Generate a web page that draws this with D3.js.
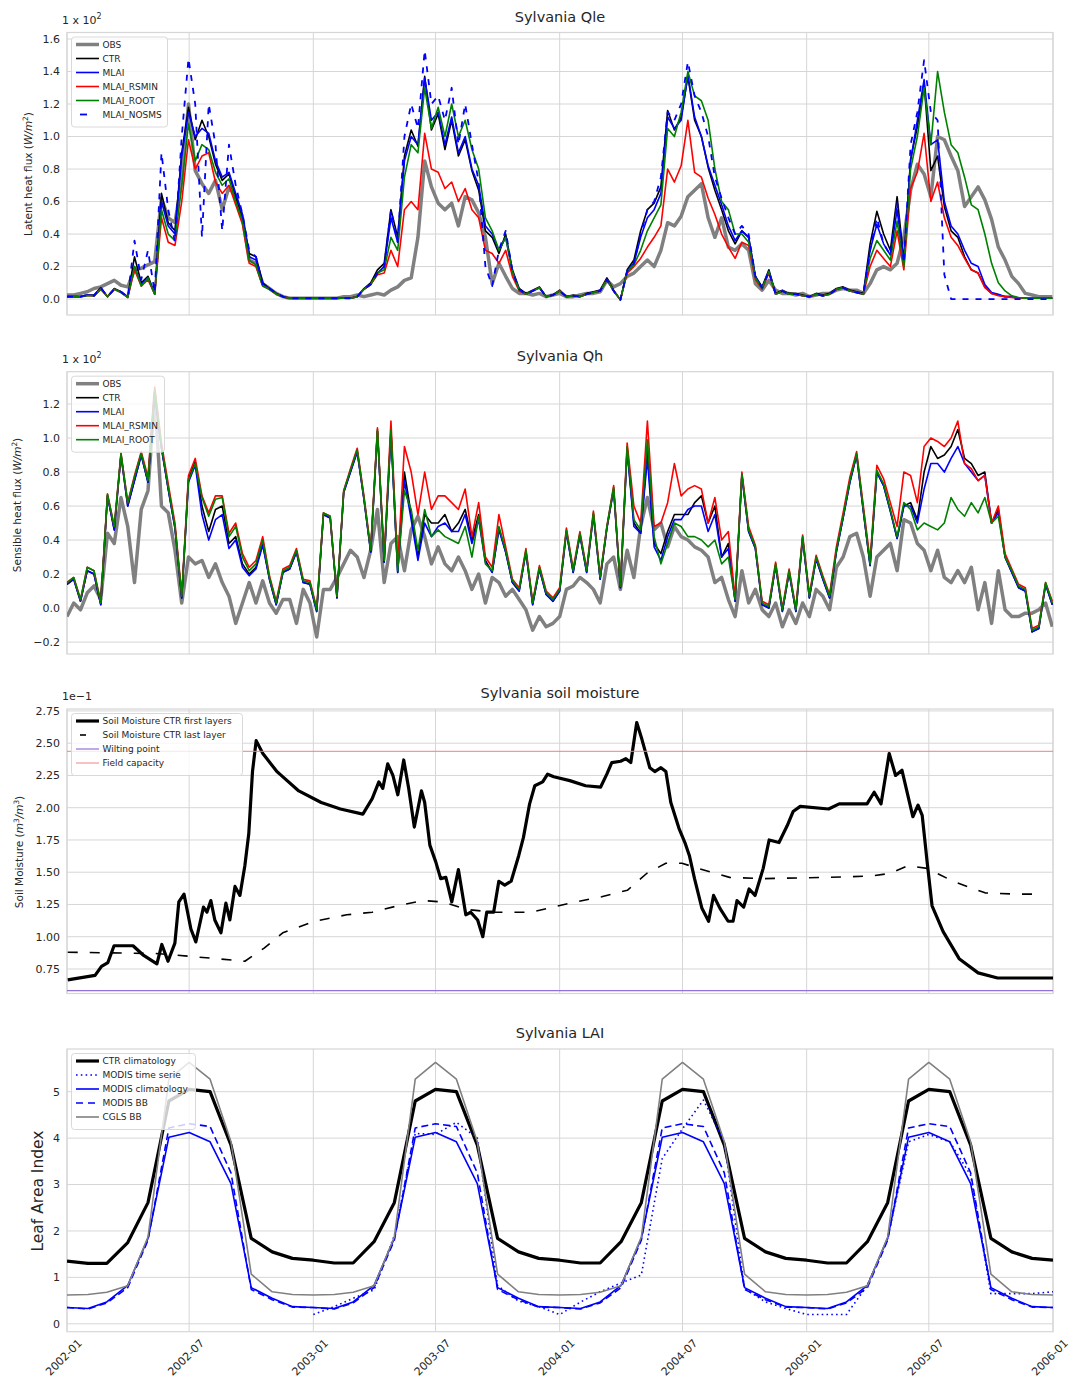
<!DOCTYPE html>
<html>
<head>
<meta charset="utf-8">
<script src="https://cdn.jsdelivr.net/npm/d3@7"></script>
<style>
  body { margin: 0; background: #fff; }
  text { font-family: "DejaVu Sans", sans-serif; fill: #262626; }
</style>
</head>
<body>
<div id="chart"></div>
<script>
// ---- 10-day series (147 samples from 2002-01-01), units of 1e2 W/m2 ----
const qleObs = [0.025,0.025,0.035,0.045,0.065,0.075,0.095,0.115,0.085,0.075,
  0.18,0.19,0.21,0.23,0.62,0.50,0.47,0.73,1.20,0.79,
  0.71,0.65,0.73,0.55,0.69,0.63,0.50,0.24,0.22,0.095,
  0.065,0.035,0.015,0.005,0.005,0.005,0.005,0.005,0.005,0.005,
  0.005,0.015,0.015,0.025,0.015,0.025,0.035,0.025,0.055,0.075,
  0.115,0.13,0.38,0.85,0.69,0.59,0.55,0.59,0.45,0.63,
  0.61,0.53,0.38,0.095,0.22,0.14,0.065,0.035,0.035,0.025,
  0.035,0.015,0.025,0.035,0.015,0.015,0.025,0.035,0.035,0.045,
  0.115,0.075,0.095,0.14,0.16,0.20,0.24,0.20,0.30,0.47,
  0.45,0.51,0.63,0.67,0.71,0.50,0.38,0.50,0.32,0.30,
  0.34,0.30,0.095,0.055,0.115,0.055,0.035,0.035,0.025,0.035,
  0.015,0.025,0.035,0.035,0.055,0.065,0.055,0.055,0.035,0.095,
  0.18,0.20,0.18,0.22,0.38,0.67,0.83,0.77,0.63,1.00,
  0.98,0.88,0.79,0.57,0.63,0.69,0.61,0.49,0.32,0.24,
  0.14,0.095,0.035,0.025,0.015,0.015,0.015];
const qleCtr = [0.015,0.015,0.015,0.025,0.025,0.07,0.015,0.065,0.045,0.015,
  0.26,0.10,0.14,0.035,0.65,0.47,0.42,0.90,1.18,0.98,
  1.10,1.00,0.83,0.73,0.77,0.63,0.50,0.28,0.26,0.10,
  0.065,0.035,0.015,0.005,0.005,0.005,0.005,0.005,0.005,0.005,
  0.005,0.005,0.005,0.015,0.065,0.10,0.18,0.22,0.55,0.38,
  0.88,1.04,0.94,1.37,1.04,1.14,0.92,1.10,0.88,0.98,
  0.79,0.67,0.42,0.38,0.28,0.40,0.18,0.065,0.035,0.055,
  0.075,0.015,0.025,0.055,0.015,0.025,0.015,0.035,0.045,0.055,
  0.13,0.055,-0.005,0.18,0.24,0.42,0.55,0.59,0.69,1.16,
  1.04,1.12,1.37,1.10,1.00,0.81,0.67,0.55,0.42,0.34,
  0.42,0.38,0.14,0.075,0.18,0.035,0.055,0.035,0.035,0.025,
  0.015,0.035,0.025,0.035,0.065,0.075,0.055,0.045,0.035,0.34,
  0.54,0.40,0.30,0.63,0.24,0.86,1.06,1.33,0.79,0.88,
  0.57,0.42,0.38,0.26,0.18,0.16,0.075,0.035,0.025,0.015,
  0.015,0.005,0.005,0.005,0.005,0.005,0.005];
const qleMlai = [0.015,0.015,0.015,0.025,0.02,0.07,0.015,0.06,0.045,0.01,
  0.20,0.09,0.13,0.03,0.60,0.45,0.40,0.88,1.15,1.00,
  1.05,1.02,0.85,0.75,0.78,0.65,0.52,0.26,0.24,0.09,
  0.065,0.035,0.015,0.005,0.005,0.005,0.005,0.005,0.005,0.005,
  0.005,0.005,0.005,0.015,0.06,0.09,0.16,0.20,0.50,0.35,
  0.85,1.00,0.95,1.36,1.10,1.15,0.95,1.12,0.90,1.00,
  0.80,0.70,0.45,0.40,0.30,0.38,0.17,0.06,0.03,0.05,
  0.07,0.015,0.025,0.05,0.015,0.02,0.015,0.03,0.04,0.05,
  0.12,0.05,-0.005,0.17,0.22,0.38,0.50,0.55,0.65,1.12,
  1.05,1.10,1.38,1.12,1.00,0.82,0.70,0.58,0.45,0.36,
  0.42,0.38,0.14,0.07,0.17,0.03,0.05,0.03,0.03,0.02,
  0.015,0.03,0.02,0.03,0.06,0.07,0.05,0.04,0.03,0.30,
  0.46,0.34,0.27,0.55,0.22,0.85,1.10,1.35,0.95,0.98,
  0.60,0.45,0.40,0.30,0.22,0.20,0.09,0.04,0.03,0.015,
  0.015,0.005,0.005,0.005,0.005,0.005,0.005];
const qleRsmin = [0.015,0.015,0.015,0.02,0.02,0.06,0.015,0.06,0.04,0.01,
  0.18,0.08,0.12,0.03,0.50,0.35,0.33,0.60,0.98,0.80,
  0.88,0.90,0.72,0.65,0.70,0.58,0.46,0.22,0.20,0.08,
  0.06,0.03,0.015,0.005,0.005,0.005,0.005,0.005,0.005,0.005,
  0.005,0.005,0.005,0.015,0.06,0.09,0.15,0.16,0.30,0.20,
  0.55,0.60,0.55,1.02,0.80,0.78,0.68,0.72,0.60,0.68,
  0.55,0.50,0.30,0.28,0.22,0.30,0.14,0.05,0.03,0.05,
  0.07,0.015,0.025,0.05,0.015,0.02,0.015,0.03,0.04,0.05,
  0.12,0.05,-0.005,0.16,0.20,0.25,0.32,0.38,0.45,0.80,
  0.72,0.82,1.10,0.78,0.75,0.62,0.52,0.40,0.32,0.25,
  0.35,0.33,0.12,0.06,0.16,0.03,0.05,0.03,0.03,0.02,
  0.015,0.03,0.02,0.03,0.06,0.07,0.05,0.04,0.03,0.20,
  0.30,0.25,0.20,0.42,0.18,0.68,0.78,1.02,0.60,0.72,
  0.50,0.38,0.33,0.25,0.18,0.16,0.07,0.035,0.02,0.015,
  0.01,0.005,0.005,0.005,0.005,0.005,0.005];
const qleRoot = [0.015,0.015,0.015,0.02,0.02,0.06,0.015,0.06,0.04,0.01,
  0.20,0.08,0.13,0.03,0.55,0.40,0.36,0.70,1.08,0.85,
  0.95,0.92,0.78,0.70,0.74,0.60,0.48,0.24,0.21,0.08,
  0.06,0.03,0.015,0.005,0.005,0.005,0.005,0.005,0.005,0.005,
  0.005,0.005,0.005,0.015,0.06,0.09,0.16,0.18,0.38,0.30,
  0.75,0.95,0.90,1.30,1.05,1.18,1.00,1.20,1.00,1.10,
  0.92,0.80,0.50,0.42,0.30,0.38,0.17,0.055,0.03,0.05,
  0.07,0.015,0.025,0.05,0.015,0.02,0.015,0.03,0.04,0.05,
  0.12,0.05,-0.005,0.17,0.21,0.30,0.42,0.50,0.58,1.05,
  1.00,1.15,1.40,1.25,1.22,1.10,0.80,0.60,0.55,0.40,
  0.40,0.35,0.13,0.065,0.17,0.03,0.05,0.03,0.03,0.02,
  0.015,0.03,0.02,0.03,0.06,0.07,0.05,0.04,0.03,0.25,
  0.36,0.30,0.24,0.48,0.20,0.80,1.00,1.30,0.95,1.40,
  1.15,0.95,0.90,0.75,0.58,0.55,0.40,0.22,0.10,0.05,
  0.02,0.01,0.005,0.005,0.005,0.005,0.005];
const qleNosms = [0.015,0.015,0.015,0.025,0.02,0.07,0.015,0.06,0.045,0.01,
  0.36,0.12,0.30,0.04,0.90,0.55,0.35,1.00,1.48,1.20,
  0.38,1.20,0.95,0.42,0.95,0.70,0.52,0.30,0.26,0.09,
  0.065,0.035,0.015,0.005,0.005,0.005,0.005,0.005,0.005,0.005,
  0.005,0.005,0.005,0.015,0.06,0.09,0.16,0.20,0.55,0.35,
  1.00,1.20,1.05,1.53,1.20,1.25,1.10,1.30,0.95,1.20,
  0.95,0.72,0.20,0.08,0.30,0.42,0.17,0.06,0.03,0.05,
  0.07,0.015,0.025,0.05,0.015,0.02,0.015,0.03,0.04,0.05,
  0.12,0.05,-0.005,0.17,0.22,0.40,0.55,0.60,0.75,1.15,
  1.10,1.20,1.46,1.25,1.15,1.00,0.75,0.62,0.50,0.40,
  0.45,0.40,0.14,0.07,0.17,0.03,0.05,0.03,0.03,0.02,
  0.015,0.03,0.02,0.03,0.06,0.07,0.05,0.04,0.03,0.30,
  0.50,0.34,0.27,0.60,0.22,0.95,1.15,1.47,1.15,1.10,
  0.15,0.0,0.0,0.0,0.0,0.0,0.0,0.0,0.0,0.0,
  0.0,0.0,0.0,0.0,0.0,0.0,0.0];

const qhObs = [-0.05,0.03,-0.01,0.09,0.13,0.05,0.44,0.38,0.65,0.48,
  0.15,0.58,0.69,1.25,0.60,0.56,0.34,0.03,0.30,0.26,
  0.28,0.18,0.26,0.15,0.07,-0.09,0.03,0.15,0.03,0.16,
  0.03,-0.03,0.05,0.05,-0.09,0.11,0.03,-0.17,0.11,0.11,
  0.18,0.26,0.34,0.30,0.18,0.34,0.58,0.15,0.38,0.42,
  0.22,0.46,0.54,0.42,0.26,0.36,0.26,0.22,0.30,0.22,
  0.11,0.20,0.03,0.18,0.15,0.07,0.11,0.05,-0.01,-0.13,
  -0.05,-0.11,-0.09,-0.05,0.11,0.13,0.18,0.15,0.11,0.03,
  0.26,0.30,0.11,0.34,0.18,0.48,0.65,0.46,0.50,0.36,
  0.48,0.42,0.40,0.36,0.34,0.30,0.15,0.18,0.05,-0.05,
  0.22,0.03,0.11,-0.01,-0.05,0.03,-0.11,-0.01,-0.09,0.03,
  -0.05,0.11,0.07,-0.01,0.24,0.30,0.42,0.44,0.30,0.07,
  0.30,0.34,0.38,0.22,0.52,0.50,0.38,0.34,0.22,0.34,
  0.18,0.15,0.22,0.15,0.24,-0.01,0.15,-0.09,0.22,-0.01,
  -0.05,-0.05,-0.03,-0.03,-0.01,0.03,-0.11];
const qhCtr = [0.14,0.17,0.04,0.22,0.20,0.02,0.66,0.46,0.90,0.60,
  0.75,0.90,0.74,1.27,0.94,0.70,0.47,0.06,0.76,0.86,
  0.60,0.45,0.58,0.60,0.38,0.42,0.26,0.20,0.24,0.38,
  0.17,0.02,0.21,0.23,0.33,0.15,0.14,-0.02,0.55,0.53,
  0.06,0.68,0.80,0.92,0.64,0.33,1.04,0.27,1.04,0.21,
  0.80,0.55,0.30,0.55,0.50,0.50,0.55,0.45,0.50,0.58,
  0.40,0.55,0.28,0.21,0.47,0.33,0.15,0.10,0.33,0.02,
  0.23,0.08,0.04,0.10,0.45,0.21,0.43,0.21,0.55,0.17,
  0.47,0.70,0.12,0.94,0.50,0.44,0.92,0.38,0.32,0.45,
  0.55,0.55,0.55,0.62,0.66,0.50,0.60,0.30,0.38,0.04,
  0.78,0.45,0.35,0.02,0.00,0.25,-0.02,0.21,-0.02,0.41,
  0.06,0.29,0.17,0.06,0.33,0.53,0.74,0.90,0.57,0.25,
  0.80,0.72,0.57,0.41,0.60,0.62,0.52,0.80,0.95,0.88,
  0.90,0.95,1.05,0.88,0.85,0.78,0.80,0.50,0.58,0.30,
  0.21,0.12,0.10,-0.14,-0.12,0.14,0.02];
const qhMlai = [0.14,0.17,0.04,0.22,0.20,0.02,0.66,0.46,0.90,0.60,
  0.75,0.90,0.74,1.27,0.94,0.70,0.47,0.06,0.74,0.84,
  0.55,0.40,0.52,0.55,0.35,0.40,0.24,0.19,0.23,0.37,
  0.17,0.02,0.21,0.23,0.33,0.15,0.14,-0.02,0.55,0.53,
  0.06,0.68,0.80,0.92,0.64,0.33,1.04,0.27,1.03,0.21,
  0.75,0.52,0.28,0.50,0.42,0.48,0.50,0.45,0.45,0.55,
  0.38,0.52,0.27,0.21,0.46,0.33,0.15,0.10,0.33,0.02,
  0.23,0.08,0.04,0.10,0.45,0.21,0.43,0.21,0.55,0.17,
  0.47,0.70,0.12,0.93,0.48,0.44,0.88,0.36,0.28,0.42,
  0.52,0.52,0.58,0.60,0.60,0.45,0.55,0.30,0.35,0.04,
  0.78,0.45,0.35,0.02,0.00,0.25,-0.02,0.21,-0.02,0.41,
  0.06,0.29,0.17,0.06,0.33,0.53,0.74,0.90,0.57,0.25,
  0.80,0.72,0.57,0.41,0.60,0.60,0.50,0.70,0.85,0.85,
  0.80,0.88,0.95,0.85,0.80,0.75,0.78,0.50,0.56,0.30,
  0.21,0.12,0.10,-0.14,-0.12,0.14,0.02];
const qhRsmin = [0.15,0.18,0.05,0.24,0.22,0.03,0.67,0.48,0.91,0.62,
  0.78,0.92,0.77,1.30,0.97,0.73,0.50,0.08,0.78,0.88,
  0.66,0.56,0.66,0.66,0.44,0.50,0.32,0.24,0.28,0.42,
  0.19,0.04,0.23,0.25,0.35,0.17,0.16,0.00,0.56,0.54,
  0.07,0.69,0.82,0.94,0.66,0.35,1.06,0.30,1.10,0.25,
  0.95,0.80,0.55,0.80,0.58,0.66,0.66,0.62,0.58,0.70,
  0.42,0.62,0.30,0.24,0.55,0.36,0.17,0.12,0.35,0.04,
  0.25,0.10,0.06,0.12,0.47,0.23,0.45,0.23,0.57,0.19,
  0.48,0.72,0.13,0.97,0.60,0.50,1.10,0.48,0.50,0.62,
  0.85,0.66,0.70,0.72,0.70,0.50,0.65,0.40,0.45,0.06,
  0.80,0.48,0.37,0.04,0.02,0.27,0.00,0.23,0.00,0.43,
  0.08,0.31,0.19,0.08,0.36,0.56,0.77,0.92,0.60,0.28,
  0.84,0.76,0.62,0.48,0.80,0.78,0.62,0.95,1.00,0.98,
  0.95,1.00,1.10,0.85,0.82,0.75,0.78,0.50,0.60,0.32,
  0.23,0.14,0.12,-0.12,-0.10,0.15,0.04];
const qhRoot = [0.15,0.18,0.05,0.24,0.22,0.03,0.67,0.48,0.91,0.62,
  0.77,0.91,0.75,1.28,0.95,0.71,0.48,0.07,0.75,0.85,
  0.65,0.54,0.64,0.65,0.42,0.48,0.30,0.22,0.26,0.40,
  0.18,0.03,0.22,0.24,0.34,0.16,0.15,-0.01,0.56,0.54,
  0.07,0.69,0.81,0.93,0.65,0.34,1.05,0.28,1.05,0.22,
  0.69,0.58,0.34,0.58,0.42,0.46,0.42,0.40,0.38,0.48,
  0.30,0.54,0.26,0.22,0.48,0.34,0.16,0.11,0.34,0.03,
  0.24,0.09,0.05,0.11,0.46,0.22,0.44,0.22,0.56,0.18,
  0.48,0.71,0.13,0.95,0.52,0.46,0.99,0.42,0.26,0.38,
  0.50,0.48,0.42,0.42,0.40,0.36,0.40,0.26,0.30,0.05,
  0.79,0.46,0.36,0.03,0.01,0.26,-0.01,0.22,-0.01,0.42,
  0.07,0.30,0.18,0.07,0.34,0.54,0.75,0.91,0.58,0.26,
  0.81,0.73,0.58,0.42,0.62,0.58,0.46,0.50,0.48,0.46,
  0.50,0.65,0.58,0.54,0.62,0.56,0.65,0.50,0.54,0.30,
  0.22,0.13,0.11,-0.13,-0.11,0.15,0.03];

// ---- soil moisture (1e-1 m3/m3), [decimal year, value] ----
const smFirstT = [2002.003,2002.114,2002.140,2002.166,2002.191,2002.268,2002.308,2002.365,2002.385,2002.410,
  2002.438,2002.454,2002.475,2002.503,2002.523,2002.554,2002.568,2002.584,2002.600,2002.625,
  2002.645,2002.661,2002.682,2002.702,2002.722,2002.738,2002.753,2002.768,2002.795,2002.852,
  2002.864,2002.941,2003.032,2003.110,2003.201,2003.239,2003.266,2003.282,2003.302,2003.323,
  2003.343,2003.367,2003.387,2003.410,2003.439,2003.452,2003.473,2003.497,2003.517,2003.538,
  2003.562,2003.589,2003.619,2003.639,2003.667,2003.688,2003.704,2003.732,2003.753,2003.777,
  2003.803,2003.834,2003.853,2003.878,2003.899,2003.931,2003.951,2003.976,2004.041,2004.105,
  2004.166,2004.191,2004.211,2004.247,2004.268,2004.288,2004.312,2004.333,2004.365,2004.385,
  2004.410,2004.430,2004.450,2004.483,2004.507,2004.525,2004.546,2004.576,2004.603,2004.623,
  2004.649,2004.682,2004.702,2004.718,2004.745,2004.767,2004.791,2004.824,2004.848,2004.888,
  2004.921,2004.945,2004.974,2005.089,2005.132,2005.245,2005.274,2005.302,2005.335,2005.361,
  2005.387,2005.431,2005.452,2005.469,2005.489,2005.509,2005.554,2005.619,2005.696,2005.775,
  2006.000];
const smFirst = [0.665,0.70,0.77,0.80,0.93,0.93,0.86,0.79,0.94,0.81,
  0.95,1.27,1.33,1.06,0.96,1.23,1.19,1.28,1.13,1.03,
  1.26,1.13,1.39,1.32,1.55,1.80,2.28,2.52,2.42,2.28,
  2.26,2.13,2.04,1.99,1.95,2.07,2.20,2.15,2.34,2.25,
  2.10,2.37,2.15,1.85,2.13,2.04,1.71,1.58,1.45,1.46,
  1.27,1.52,1.17,1.19,1.13,1.00,1.19,1.19,1.43,1.40,
  1.43,1.63,1.77,2.03,2.17,2.20,2.26,2.24,2.21,2.17,
  2.16,2.26,2.35,2.36,2.38,2.35,2.66,2.53,2.31,2.28,
  2.31,2.28,2.04,1.84,1.73,1.63,1.45,1.22,1.12,1.32,
  1.22,1.12,1.12,1.28,1.23,1.37,1.32,1.53,1.75,1.73,
  1.86,1.97,2.01,1.99,2.03,2.03,2.12,2.03,2.42,2.25,
  2.29,1.93,2.02,1.94,1.58,1.24,1.04,0.83,0.72,0.68,
  0.68];
const smLastT = [2002.003,2002.360,2002.489,2002.722,2002.799,2002.876,2003.006,2003.136,2003.239,2003.343,
  2003.446,2003.524,2003.627,2003.731,2003.886,2004.041,2004.170,2004.274,2004.352,2004.430,
  2004.495,2004.560,2004.688,2004.817,2005.075,2005.258,2005.335,2005.412,2005.489,2005.594,
  2005.724,2005.854,2005.955];
const smLast = [0.88,0.87,0.85,0.81,0.91,1.03,1.12,1.17,1.19,1.24,
  1.28,1.27,1.21,1.19,1.19,1.26,1.31,1.36,1.49,1.57,
  1.57,1.53,1.46,1.45,1.46,1.47,1.49,1.55,1.53,1.43,
  1.34,1.33,1.33];
const wiltingPoint = 0.583;
const fieldCapacity = 2.436;

// ---- LAI, monthly from 2002-01 to 2006-01 ----
const laiCtrClim = [1.35,1.30,1.30,1.75,2.61,4.80,5.05,5.00,3.85,1.84,1.55,1.41,
  1.37,1.31,1.31,1.77,2.61,4.80,5.05,5.00,3.85,1.84,1.55,1.41,
  1.37,1.31,1.31,1.77,2.61,4.80,5.05,5.00,3.85,1.84,1.55,1.41,
  1.37,1.31,1.31,1.77,2.61,4.80,5.05,5.00,3.85,1.84,1.55,1.41,
  1.37];
const laiModisTs = [null,null,null,null,null,null,null,null,null,null,null,null,
  0.20,0.37,0.55,0.73,1.90,4.10,4.08,4.34,4.00,0.82,0.49,0.37,
  0.20,0.47,0.69,0.88,1.05,3.56,4.20,4.82,3.92,0.76,0.47,0.33,
  0.20,0.20,0.20,0.83,1.84,3.92,4.08,3.92,3.20,0.65,0.65,0.65,
  0.69];
const laiModisClim = [0.35,0.33,0.47,0.83,1.84,4.02,4.12,3.92,3.02,0.78,0.55,0.37,
  0.35,0.33,0.47,0.83,1.84,4.02,4.12,3.92,3.02,0.78,0.55,0.37,
  0.35,0.33,0.47,0.83,1.84,4.02,4.12,3.92,3.02,0.78,0.55,0.37,
  0.35,0.33,0.47,0.83,1.84,4.02,4.12,3.92,3.02,0.78,0.55,0.37,
  0.35];
const laiModisBB = [0.35,0.32,0.45,0.78,1.80,4.22,4.31,4.25,3.25,0.74,0.52,0.36,
  0.35,0.32,0.45,0.78,1.80,4.22,4.31,4.25,3.25,0.74,0.52,0.36,
  0.35,0.32,0.45,0.78,1.80,4.22,4.31,4.25,3.25,0.74,0.52,0.36,
  0.35,0.32,0.45,0.78,1.80,4.22,4.31,4.25,3.25,0.74,0.52,0.36,
  0.35];
const laiCgls = [0.62,0.63,0.68,0.82,1.87,5.27,5.63,5.27,3.92,1.07,0.69,0.63,
  0.62,0.63,0.68,0.82,1.87,5.27,5.63,5.27,3.92,1.07,0.69,0.63,
  0.62,0.63,0.68,0.82,1.87,5.27,5.63,5.27,3.92,1.07,0.69,0.63,
  0.62,0.63,0.68,0.82,1.87,5.27,5.63,5.27,3.92,1.07,0.69,0.63,
  0.62];

// ---- time axes ----
const start = new Date(2002, 0, 1);
const end = new Date(2006, 0, 1);
const dekadDates = qleObs.map((d, i) => d3.timeDay.offset(start, 10 * i));
const monthDates = laiCtrClim.map((d, i) => d3.timeMonth.offset(start, i));

function fromDecYear(t) {
  const yr = Math.floor(t);
  const a = new Date(yr, 0, 1), b = new Date(yr + 1, 0, 1);
  return new Date(+a + (t - yr) * (b - a));
}

const W = 1075, H = 1380;
const left = 67, right = 1053;
const gridColor = "#d6d6d6";

const svg = d3.select("#chart").append("svg")
  .attr("width", W).attr("height", H)
  .style("display", "block");

const x = d3.scaleTime().domain([start, end]).range([left, right]);
const xTicks = d3.timeMonth.every(6).range(start, d3.timeDay.offset(end, 1));

let clipId = 0;

function drawPanel(cfg) {
  const g = svg.append("g");
  const y = d3.scaleLinear().domain(cfg.yDomain).range([cfg.bottom, cfg.top]);

  // grid
  g.selectAll(".hg").data(cfg.yTicks).join("line")
    .attr("x1", left).attr("x2", right)
    .attr("y1", d => y(d)).attr("y2", d => y(d))
    .attr("stroke", gridColor).attr("stroke-width", 1);
  g.selectAll(".vg").data(xTicks).join("line")
    .attr("x1", d => x(d)).attr("x2", d => x(d))
    .attr("y1", cfg.top).attr("y2", cfg.bottom)
    .attr("stroke", gridColor).attr("stroke-width", 1);
  g.append("rect")
    .attr("x", left).attr("y", cfg.top)
    .attr("width", right - left).attr("height", cfg.bottom - cfg.top)
    .attr("fill", "none").attr("stroke", gridColor).attr("stroke-width", 1.2);

  // y tick labels
  g.selectAll(".yt").data(cfg.yTicks).join("text")
    .attr("x", left - 7).attr("y", d => y(d)).attr("dy", "0.35em")
    .attr("text-anchor", "end").attr("font-size", 11)
    .text(cfg.yFormat);

  // clip
  const id = "clip" + (clipId++);
  svg.append("clipPath").attr("id", id).append("rect")
    .attr("x", left).attr("y", cfg.top)
    .attr("width", right - left).attr("height", cfg.bottom - cfg.top);
  const plot = g.append("g").attr("clip-path", `url(#${id})`);

  cfg.series.forEach(s => {
    const line = d3.line()
      .defined(d => d[1] !== null)
      .x(d => x(d[0])).y(d => y(d[1]));
    const pts = s.dates.map((dt, i) => [dt, s.values[i]]);
    plot.append("path")
      .datum(pts)
      .attr("d", line)
      .attr("fill", "none")
      .attr("stroke", s.color)
      .attr("stroke-width", s.width)
      .attr("stroke-opacity", s.opacity || 1)
      .attr("stroke-dasharray", s.dash || null)
      .attr("stroke-linejoin", "round");
  });
  (cfg.hlines || []).forEach(h => {
    plot.append("line")
      .attr("x1", left).attr("x2", right)
      .attr("y1", y(h.value)).attr("y2", y(h.value))
      .attr("stroke", h.color).attr("stroke-width", h.width)
      .attr("stroke-opacity", h.opacity || 1);
  });

  // title
  svg.append("text")
    .attr("x", (left + right) / 2).attr("y", cfg.top - 11)
    .attr("text-anchor", "middle").attr("font-size", 14.5)
    .text(cfg.title);

  // offset text
  if (cfg.offsetText) {
    const t = svg.append("text").attr("x", left - 5).attr("y", cfg.top - 9)
      .attr("font-size", 11);
    t.append("tspan").text(cfg.offsetText[0]);
    if (cfg.offsetText[1]) {
      t.append("tspan").attr("font-size", 8).attr("dy", -5).text(cfg.offsetText[1]);
    }
  }

  // y label
  const yl = svg.append("text")
    .attr("transform", `translate(${cfg.yLabelX},${cfg.yLabelY}) rotate(-90)`)
    .attr("text-anchor", "middle")
    .attr("font-size", cfg.yLabelSize);
  cfg.yLabel.forEach(p => {
    const ts = yl.append("tspan").text(p.t);
    if (p.italic) ts.attr("font-style", "italic");
    if (p.sup) ts.attr("font-size", cfg.yLabelSize * 0.7).attr("dy", -4);
    if (p.down) ts.attr("dy", 4);
  });

  // legend
  const lg = svg.append("g");
  const rowH = 14;
  lg.append("rect")
    .attr("x", 71.5).attr("y", cfg.top + 4.5)
    .attr("width", cfg.legendW).attr("height", cfg.legend.length * rowH + 6)
    .attr("rx", 3)
    .attr("fill", "#fff").attr("fill-opacity", 0.8)
    .attr("stroke", "#d9d9d9").attr("stroke-width", 1);
  cfg.legend.forEach((s, i) => {
    const ly = cfg.top + 12 + i * rowH;
    lg.append("line")
      .attr("x1", s.hx1 || 76).attr("x2", s.hx2 || 99)
      .attr("y1", ly).attr("y2", ly)
      .attr("stroke", s.color).attr("stroke-width", s.width)
      .attr("stroke-opacity", s.opacity || 1)
      .attr("stroke-dasharray", s.legendDash || null);
    lg.append("text")
      .attr("x", 102.5).attr("y", ly).attr("dy", "0.35em")
      .attr("font-size", 9).text(s.label);
  });
  return y;
}

const fmt1 = d => d3.format(".1f")(d).replace("-", "\u2212");

// ---- Qle ----
const qleSeries = [
  { label: "OBS", values: qleObs, color: "#808080", width: 3.5 },
  { label: "CTR", values: qleCtr, color: "#000000", width: 1.6 },
  { label: "MLAI", values: qleMlai, color: "#0000ff", width: 1.6 },
  { label: "MLAI_RSMIN", values: qleRsmin, color: "#ff0000", width: 1.6 },
  { label: "MLAI_ROOT", values: qleRoot, color: "#008000", width: 1.6 },
  { label: "MLAI_NOSMS", values: qleNosms, color: "#0000ff", width: 1.8, dash: "6,7",
    legendDash: null, hx1: 80, hx2: 87 }
].map(s => Object.assign({ dates: dekadDates }, s));

drawPanel({
  title: "Sylvania Qle", top: 32.5, bottom: 315,
  yDomain: [-0.098, 1.64], yTicks: d3.range(0, 1.61, 0.2), yFormat: fmt1,
  series: qleSeries, legend: qleSeries, legendW: 96,
  offsetText: ["1 x 10", "2"],
  yLabel: [{ t: "Latent heat flux  (" }, { t: "W", italic: true }, { t: "/", italic: true },
    { t: "m", italic: true }, { t: "2", sup: true }, { t: ")", down: true }],
  yLabelX: 32, yLabelY: 174, yLabelSize: 10.5
});

// ---- Qh ----
const qhSeries = [
  { label: "OBS", values: qhObs, color: "#808080", width: 3.5 },
  { label: "CTR", values: qhCtr, color: "#000000", width: 1.6 },
  { label: "MLAI", values: qhMlai, color: "#0000ff", width: 1.6 },
  { label: "MLAI_RSMIN", values: qhRsmin, color: "#ff0000", width: 1.6 },
  { label: "MLAI_ROOT", values: qhRoot, color: "#008000", width: 1.6 }
].map(s => Object.assign({ dates: dekadDates }, s));

drawPanel({
  title: "Sylvania Qh", top: 371.7, bottom: 654,
  yDomain: [-0.27, 1.39], yTicks: d3.range(-0.2, 1.21, 0.2).map(v => Math.round(v * 10) / 10),
  yFormat: fmt1,
  series: qhSeries, legend: qhSeries, legendW: 93,
  offsetText: ["1 x 10", "2"],
  yLabel: [{ t: "Sensible heat flux   (" }, { t: "W", italic: true }, { t: "/", italic: true },
    { t: "m", italic: true }, { t: "2", sup: true }, { t: ")", down: true }],
  yLabelX: 21, yLabelY: 505, yLabelSize: 10.5
});

// ---- soil moisture ----
const smSeries = [
  { label: "Soil Moisture CTR first layers", dates: smFirstT.map(fromDecYear), values: smFirst,
    color: "#000000", width: 3.2 },
  { label: "Soil Moisture CTR last layer", dates: smLastT.map(fromDecYear), values: smLast,
    color: "#000000", width: 1.6, dash: "10,12", hx1: 80, hx2: 86 }
];
drawPanel({
  title: "Sylvania soil moisture", top: 709, bottom: 993.5,
  yDomain: [0.56, 2.765], yTicks: d3.range(0.75, 2.76, 0.25), yFormat: d3.format(".2f"),
  series: smSeries,
  hlines: [
    { value: wiltingPoint, color: "#9370db", width: 1.2 },
    { value: fieldCapacity, color: "#f08080", width: 1.2, opacity: 0.8 }
  ],
  legend: smSeries.concat([
    { label: "Wilting point", color: "#9370db", width: 1.2 },
    { label: "Field capacity", color: "#f08080", width: 1.2, opacity: 0.8 }
  ]),
  legendW: 171,
  offsetText: ["1e\u22121"],
  yLabel: [{ t: "Soil Moisture (" }, { t: "m", italic: true }, { t: "3", sup: true },
    { t: "/m", italic: true, down: true }, { t: "3", sup: true }, { t: ")", down: true }],
  yLabelX: 23, yLabelY: 852, yLabelSize: 10.5
});

// ---- LAI ----
const laiSeries = [
  { label: "CTR climatology", values: laiCtrClim, color: "#000000", width: 3.2 },
  { label: "MODIS time serie", values: laiModisTs, color: "#0000ff", width: 1.6, dash: "1.6,3.2",
    legendDash: "1.6,3.2" },
  { label: "MODIS climatology", values: laiModisClim, color: "#0000ff", width: 1.6 },
  { label: "MODIS BB", values: laiModisBB, color: "#0000ff", width: 1.6, dash: "7,4",
    legendDash: "7,5" },
  { label: "CGLS BB", values: laiCgls, color: "#808080", width: 1.6 }
].map(s => Object.assign({ dates: monthDates }, s));

drawPanel({
  title: "Sylvania LAI", top: 1049, bottom: 1331.7,
  yDomain: [-0.17, 5.92], yTicks: d3.range(0, 6), yFormat: d3.format("d"),
  series: laiSeries, legend: laiSeries, legendW: 124,
  yLabel: [{ t: "Leaf Area Index" }],
  yLabelX: 43, yLabelY: 1191, yLabelSize: 15.5
});

// x tick labels on bottom panel
svg.selectAll(".xt").data(xTicks).join("text")
  .attr("transform", d => `translate(${x(d) + 13},${1341}) rotate(-45)`)
  .attr("text-anchor", "end").attr("dy", "0.35em")
  .attr("font-size", 11)
  .text(d3.timeFormat("%Y-%m"));
</script>
</body>
</html>
